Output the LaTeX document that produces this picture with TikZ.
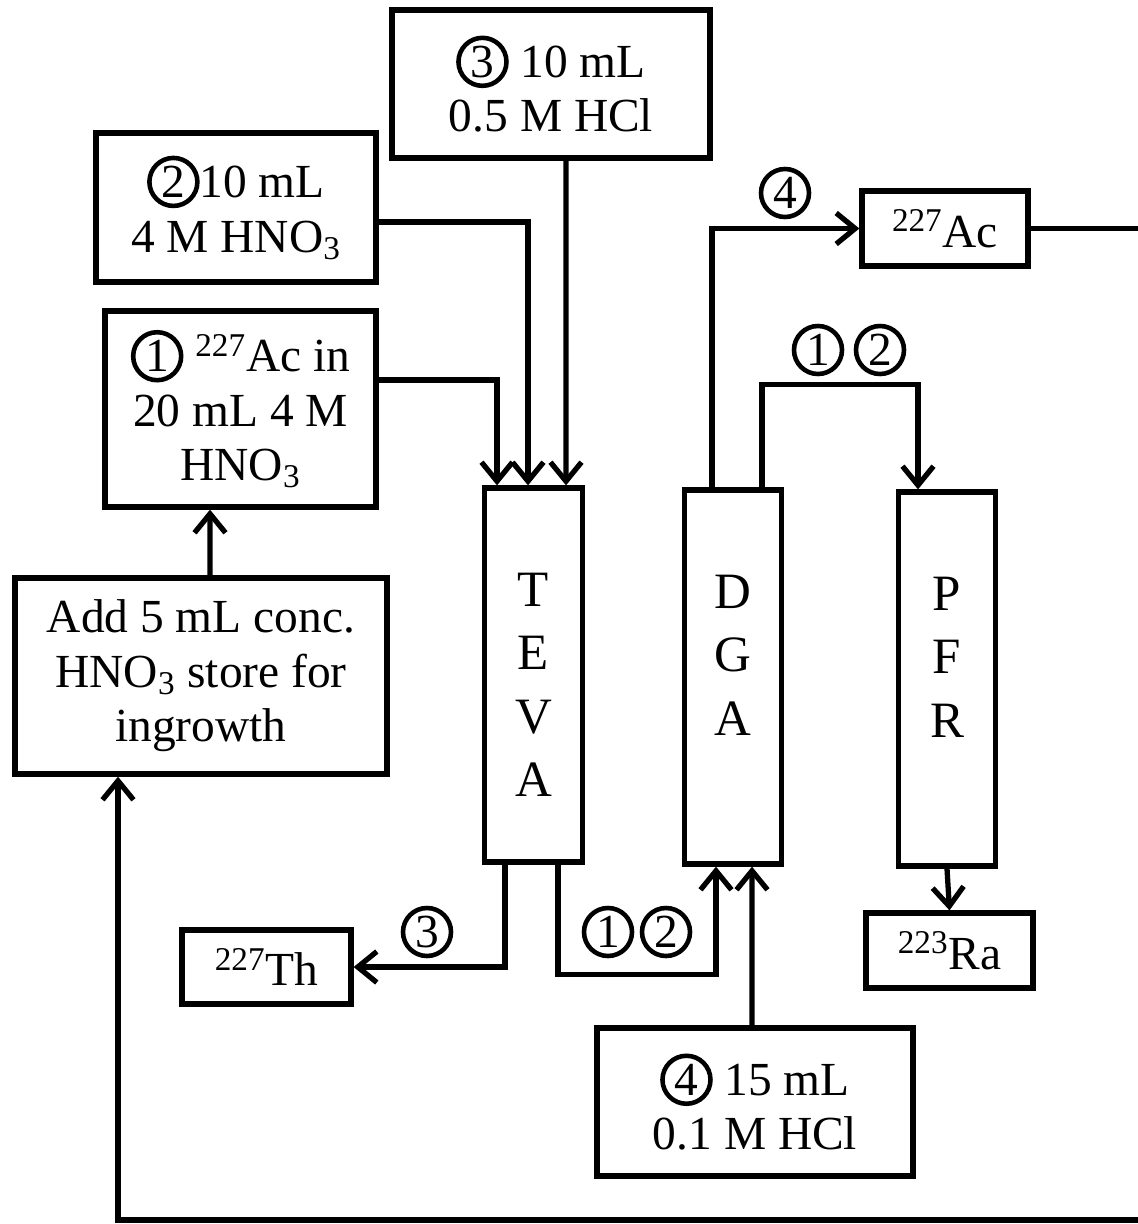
\documentclass[tikz,border=0pt]{standalone}
\usepackage{fontspec}
\setmainfont{Liberation Serif}
\usetikzlibrary{arrows.meta}
\newcommand{\cnum}[1]{\tikz[baseline=(cn.base)]\node[circle,draw,line width=2.6pt,inner sep=0pt,minimum size=0.96cm](cn){#1};}

\begin{document}
\begin{tikzpicture}[font=\fontsize{27}{31}\selectfont]
\tikzstyle{box} = [rectangle, draw, line width=3pt, align=center, inner sep=0pt]
\tikzstyle{column} = [rectangle, draw, line width=3pt, minimum width=1.95cm, minimum height=7.48cm]
\tikzstyle{letters} = [align=center, anchor=north, inner sep=0pt, font=\fontsize{29}{36}\selectfont]
\tikzstyle{num} = [circle, draw, line width=2.6pt, inner sep=0pt, minimum size=0.96cm]
\tikzstyle{arrow} = [line width=3pt, -{Straight Barb[length=0.38cm,width=0.62cm]}]
\tikzstyle{line} = [line width=3pt]

\useasboundingbox (0,0) rectangle (22.76,-24.48);

% feed solutions
\node (ThStrip) [box, minimum width=6.36cm, minimum height=2.96cm] at (11.02,-1.68) {\cnum{3} 10 mL\\0.5 M HCl};
\node (Rinse) [box, minimum width=5.6cm, minimum height=2.98cm] at (4.72,-4.15) {\cnum{2}10 mL\\4 M HNO\textsubscript{3}};
\node (Load) [box, minimum width=5.42cm, minimum height=3.92cm] at (4.81,-8.18) {\cnum{1} \textsuperscript{227}Ac in\\20 mL 4 M\\HNO\textsubscript{3}};
\node (Ingrowth) [box, minimum width=7.44cm, minimum height=3.92cm] at (4.02,-13.52) {Add 5 mL conc.\\HNO\textsubscript{3} store for\\ingrowth};
\node (AcStrip) [box, minimum width=6.32cm, minimum height=2.96cm] at (15.1,-22.04) {\cnum{4} 15 mL\\0.1 M HCl};

% columns
\node (TEVA) [column] at (10.67,-13.5) {};
\node (DGA) [column] at (14.66,-13.54) {};
\node (PFR) [column] at (18.94,-13.58) {};
\node (TEVAtext) [letters] at ([yshift=-1.75cm]TEVA.north) {T\\E\\V\\A};
\node (DGAtext) [letters] at ([yshift=-1.75cm]DGA.north) {D\\G\\A};
\node (PFRtext) [letters] at ([yshift=-1.75cm]PFR.north) {P\\F\\R};

% products
\node (Ac) [box, minimum width=3.32cm, minimum height=1.5cm] at (18.9,-4.57) {\textsuperscript{227}Ac};
\node (Th) [box, minimum width=3.38cm, minimum height=1.48cm] at (5.33,-19.34) {\textsuperscript{227}Th};
\node (Ra) [box, minimum width=3.34cm, minimum height=1.5cm] at (18.99,-19.01) {\textsuperscript{223}Ra};

% step labels
\node (N4top) [num] at (15.7,-3.86) {4};
\node (N1top) [num] at (16.36,-7.0) {1};
\node (N2top) [num] at (17.6,-7.0) {2};
\node (N3bot) [num] at (8.54,-18.64) {3};
\node (N1bot) [num] at (12.16,-18.64) {1};
\node (N2bot) [num] at (13.32,-18.64) {2};

\coordinate (OutR) at (22.9,-4.6);
\coordinate (OutB) at (22.9,-24.4);

% connectors
\draw [arrow] ([yshift=0.58cm]Load.east) -| ([xshift=-0.73cm]TEVA.north);
\draw [arrow] ([yshift=-0.29cm]Rinse.east) -| ([xshift=-0.11cm]TEVA.north);
\draw [arrow] ([xshift=0.3cm]ThStrip.south) -- ([xshift=0.65cm]TEVA.north);
\draw [arrow] ([xshift=0.18cm]Ingrowth.north) -- ([xshift=-0.61cm]Load.south);
\draw [arrow] ([xshift=-0.57cm]TEVA.south) |- (Th.east);
\draw [arrow] ([xshift=0.49cm]TEVA.south) |- ([xshift=-0.34cm,yshift=-2.16cm]DGA.south) -- ([xshift=-0.34cm]DGA.south);
\draw [arrow] ([xshift=-0.06cm]AcStrip.north) -- ([xshift=0.38cm]DGA.south);
\draw [arrow] ([xshift=-0.42cm]DGA.north) |- (Ac.west);
\draw [arrow] ([xshift=0.58cm]DGA.north) |- ([xshift=-0.58cm,yshift=2.1cm]PFR.north) -- ([xshift=-0.58cm]PFR.north);
\draw [arrow] (PFR.south) -- (Ra.north);
\draw [line] (Ac.east) -- (Ac.east -| OutR);
\draw [arrow] (OutB) -| ([xshift=-1.66cm]Ingrowth.south);
\end{tikzpicture}
\end{document}
